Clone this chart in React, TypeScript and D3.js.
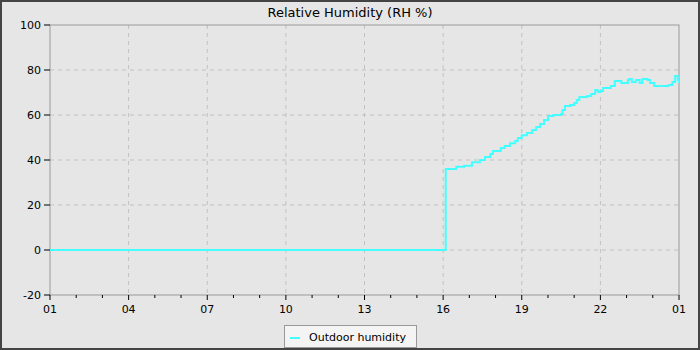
import { line, curveStepAfter, scaleLinear, range } from "d3";

const WIDTH = 700;
const HEIGHT = 350;
const MARGIN = { top: 25, right: 21, bottom: 55, left: 50 };

// clock hours (01:00 to 01:00 next day = 25)
const hours = [
  1, 16.1, 16.5, 16.8, 17.1, 17.4, 17.6, 17.8, 17.9, 18.2, 18.35, 18.55, 18.75,
  18.85, 19.0, 19.2, 19.4, 19.55, 19.7, 19.85, 20.0, 20.2, 20.5, 20.55, 20.65,
  20.85, 21.0, 21.1, 21.2, 21.5, 21.65, 21.8, 21.9, 22.0, 22.1, 22.4, 22.55,
  22.8, 23.05, 23.1, 23.2, 23.35, 23.5, 23.6, 23.8, 23.9, 24.05, 24.6, 24.75,
  24.85, 24.95, 25,
];
const humidity = [
  0, 36, 37, 37.5, 39, 40, 41.3, 42.7, 44, 45.3, 46.2, 47.5, 48.4, 49.8, 51, 52,
  53.3, 54.7, 56, 57.8, 59.6, 60, 60.4, 62.2, 64, 64.4, 65.3, 66.7, 68, 68.4,
  69.3, 71.1, 70.2, 70.7, 72, 72.9, 75.1, 74.2, 75.6, 76, 74.7, 75.6, 74.2, 76,
  75.6, 74.2, 72.9, 73.3, 74.7, 77.3, 75.6, 74.2,
];
const xTickHours = [1, 4, 7, 10, 13, 16, 19, 22, 25];
const yTicks = [-20, 0, 20, 40, 60, 80, 100];

const TITLE = "Relative Humidity (RH %)";
const SERIES_NAME = "Outdoor humidity";
const FONT = "DejaVu Sans, sans-serif";

export default function App() {
  const x = scaleLinear()
    .domain([1, 25])
    .range([MARGIN.left, WIDTH - MARGIN.right]);
  const y = scaleLinear()
    .domain([-20, 100])
    .range([HEIGHT - MARGIN.bottom, MARGIN.top]);

  const points = hours.map((h, i) => ({ h, v: humidity[i] }));
  const path = line<{ h: number; v: number }>()
    .x((d) => x(d.h))
    .y((d) => y(d.v))
    .curve(curveStepAfter)(points);

  const x0 = MARGIN.left;
  const x1 = WIDTH - MARGIN.right;
  const y0 = HEIGHT - MARGIN.bottom;
  const y1 = MARGIN.top;
  const fmt = (h: number) => String(((h - 1) % 24) + 1).padStart(2, "0");

  return (
    <svg
      width={WIDTH}
      height={HEIGHT}
      style={{ position: "absolute", left: 0, top: 0 }}
      fontFamily={FONT}
    >
      <rect x={1} y={1} width={WIDTH - 2} height={HEIGHT - 2} fill="#e6e6e6" stroke="#444" strokeWidth={2} />
      <text x={WIDTH / 2} y={17} textAnchor="middle" fontSize={13} fill="#000">
        {TITLE}
      </text>

      {/* grid */}
      {yTicks.slice(1, -1).map((t) => (
        <line key={`gy${t}`} x1={x0} x2={x1} y1={y(t)} y2={y(t)} stroke="#c0c0c0" strokeDasharray="4,4" />
      ))}
      {xTickHours.slice(1, -1).map((t) => (
        <line key={`gx${t}`} x1={x(t)} x2={x(t)} y1={y1} y2={y0} stroke="#c0c0c0" strokeDasharray="4,4" />
      ))}

      {/* frame */}
      <rect x={x0} y={y1} width={x1 - x0} height={y0 - y1} fill="none" stroke="#999" strokeWidth={1} />

      {/* y axis */}
      {yTicks.map((t) => (
        <g key={`yt${t}`}>
          <line x1={x0 - 6} x2={x0} y1={y(t)} y2={y(t)} stroke="#000" />
          <text x={x0 - 9} y={y(t) + 4} textAnchor="end" fontSize={11} fill="#000">
            {t}
          </text>
        </g>
      ))}

      {/* x axis */}
      {range(1, 26).map((h) => (
        <line
          key={`xm${h}`}
          x1={x(h)}
          x2={x(h)}
          y1={y0}
          y2={y0 + (xTickHours.includes(h) ? 5 : 3)}
          stroke="#000"
        />
      ))}
      {xTickHours.map((h) => (
        <text key={`xl${h}`} x={x(h)} y={y0 + 18} textAnchor="middle" fontSize={11} fill="#000">
          {fmt(h)}
        </text>
      ))}

      <path d={path ?? ""} fill="none" stroke="#44ffff" strokeWidth={2} />

      {/* legend */}
      <rect x={284.5} y={325.5} width={132} height={22} fill="#f4f4f4" stroke="#999" />
      <line x1={290} x2={300} y1={338} y2={338} stroke="#44ffff" strokeWidth={2} />
      <text x={309} y={341} fontSize={11} fill="#000">
        {SERIES_NAME}
      </text>
    </svg>
  );
}
